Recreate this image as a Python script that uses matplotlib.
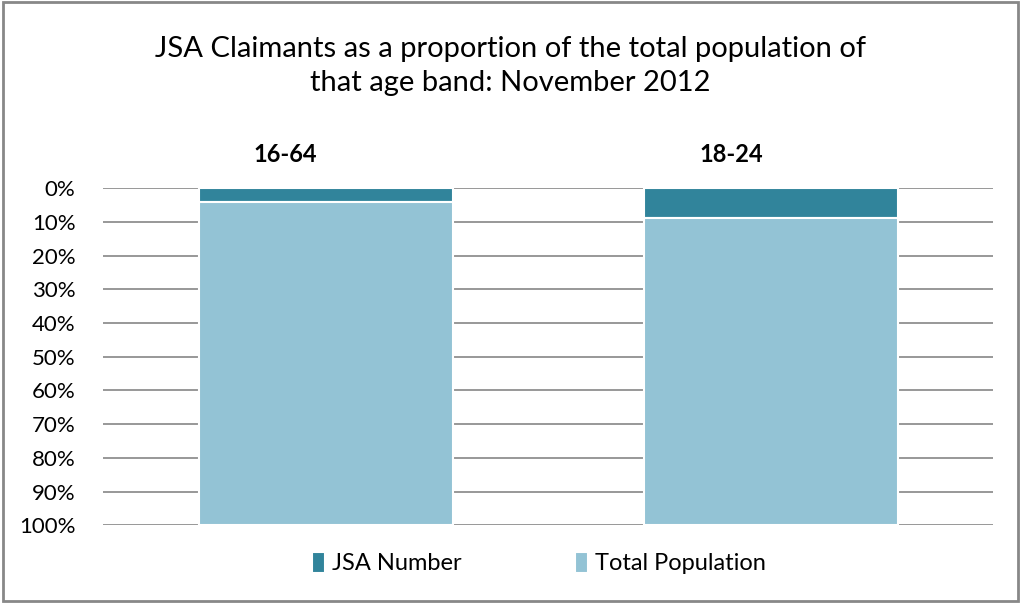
import matplotlib.pyplot as plt
import matplotlib.patches as patches
import matplotlib.transforms as mtransforms
from matplotlib.ticker import PercentFormatter

plt.rcParams['font.family'] = ['Lato', 'DejaVu Sans']

# data
age_bands = ['16-64', '18-24']
jsa_share = [4.0, 9.0]
total_share = [96.0, 91.0]
series_names = ['JSA Number', 'Total Population']
colors = ['#31849B', '#93C3D5']

fig = plt.figure(figsize=(10.21, 6.03), dpi=100)
ax = fig.add_axes([0.101, 0.129, 0.872, 0.559])

x = range(len(age_bands))
ax.bar(x, jsa_share, width=0.57, color=colors[0], edgecolor='white', linewidth=1.5,
       label=series_names[0], zorder=3)
ax.bar(x, total_share, width=0.57, bottom=jsa_share, color=colors[1], edgecolor='white',
       linewidth=1.5, label=series_names[1], zorder=3)

ax.set_xlim(-0.5, len(age_bands) - 0.5)
ax.set_ylim(100, 0)
ax.set_yticks(range(0, 101, 10))
ax.yaxis.set_major_formatter(PercentFormatter(decimals=0))
ax.tick_params(axis='y', length=0, labelsize=16, pad=20)
ax.xaxis.tick_top()
ax.set_xticks(list(x))
ax.set_xticklabels(age_bands, fontsize=17, fontweight='bold')
ax.tick_params(axis='x', length=0, pad=16)
# category labels sit a little left of the bar centres, as in the source
shift = mtransforms.ScaledTranslation(-40 / 100, 0, fig.dpi_scale_trans)
for lbl in ax.get_xticklabels():
    lbl.set_transform(lbl.get_transform() + shift)
ax.grid(axis='y', color='#868686', linewidth=1.2, zorder=0)
for s in ax.spines.values():
    s.set_visible(False)

fig.suptitle('JSA Claimants as a proportion of the total population of\nthat age band: November 2012',
             fontsize=21, y=0.94, linespacing=1.35)

ax.legend(loc='upper center', bbox_to_anchor=(0.49, -0.015), ncol=2, frameon=False,
          fontsize=17, handlelength=0.55, handleheight=1.0, handletextpad=0.3,
          columnspacing=4.8)

# outer frame
fig.patches.append(patches.Rectangle((0.003, 0.003), 0.994, 0.994, transform=fig.transFigure,
                                     fill=False, edgecolor='#888888', linewidth=2))

plt.savefig('out.png', dpi=100)
